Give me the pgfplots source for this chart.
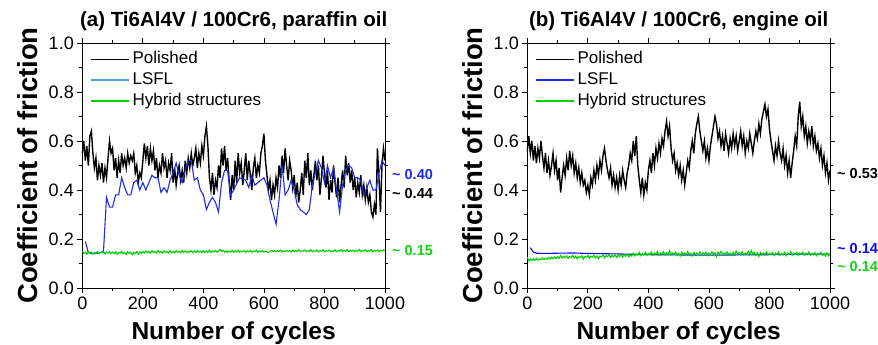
\documentclass[border=0pt]{standalone}
\usepackage{fontspec}
\setmainfont{Liberation Sans}
\usepackage{pgfplots}
\pgfplotsset{compat=1.18}
\definecolor{cblueA}{RGB}{30,45,235}
\definecolor{cblue}{RGB}{10,10,255}
\definecolor{clegblueB}{RGB}{30,40,255}
\definecolor{cgreen}{RGB}{0,210,0}
\definecolor{clegblue}{RGB}{90,155,215}
\definecolor{ctxtgreen}{RGB}{20,210,20}
\pgfplotsset{
  myax/.style={
    scale only axis, width=302.7pt, height=245pt,
    xmin=0, xmax=1000, ymin=0, ymax=1,
    clip=false,
    xtick={0,200,400,600,800,1000}, ytick={0,0.2,0.4,0.6,0.8,1.0},
    minor x tick num=1, minor y tick num=1,
    tick align=outside, xtick pos=both, ytick pos=both,
    xticklabel pos=lower, yticklabel pos=left,
    major tick length=5pt, minor tick length=3pt,
    every tick/.style={black, line width=0.8pt},
    axis line style={line width=0.9pt},
    ticklabel style={font=\fontsize{18}{18}\selectfont},
    /pgf/number format/assume math mode=true,
    /pgf/number format/1000 sep={},
    yticklabel style={/pgf/number format/.cd, fixed, fixed zerofill, precision=1},
    xlabel={Number of cycles},
    ylabel={Coefficient of friction},
    xlabel style={font=\fontsize{24.5}{26}\selectfont\bfseries, at={(axis description cs:0.5,-0.21)}, anchor=base, inner sep=0pt},
    ylabel style={font=\fontsize{27.5}{29}\selectfont\bfseries, at={(axis description cs:-0.147,0.5)}, anchor=south, inner sep=0pt},
    title style={font=\fontsize{20.5}{24}\selectfont\bfseries, at={(axis description cs:0.5,1)}, anchor=base, yshift=10pt},
    legend cell align=left,
    legend image code/.code={\draw[##1] (0pt,0pt) -- (38pt,0pt);},
    legend style={at={(axis description cs:0.025,0.978)}, anchor=north west, draw=none, fill=none,
      inner sep=0pt, row sep=0pt, font=\fontsize{17}{17}\selectfont,
      nodes={inner xsep=3pt, inner ysep=2.75pt, text height=12pt, text depth=3.5pt}},
  }
}
\begin{document}
\begin{tikzpicture}
\useasboundingbox (0pt,0pt) rectangle (878pt,345pt);
\begin{axis}[myax, at={(82.3pt,57pt)}, anchor=south west, title={(a) Ti6Al4V / 100Cr6, paraffin oil}]
\addlegendimage{black, line width=1.0pt}\addlegendentry{Polished}
\addlegendimage{clegblue, line width=1.5pt}\addlegendentry{LSFL}
\addlegendimage{cgreen, line width=1.5pt}\addlegendentry{Hybrid structures}
\addplot[black, line width=1.4pt, forget plot] coordinates {
(0,0.55)(5,0.60)(10,0.52)(15,0.58)(20,0.50)(25,0.62)(30,0.64)(35,0.55)(40,0.49)(45,0.53)
(50,0.44)(55,0.50)(60,0.46)(65,0.51)(70,0.43)(75,0.49)(80,0.45)(85,0.53)(90,0.60)(95,0.55)
(100,0.57)(105,0.48)(110,0.53)(115,0.45)(120,0.52)(125,0.47)(130,0.55)(135,0.50)(140,0.53)(145,0.49)
(150,0.55)(155,0.51)(160,0.54)(165,0.52)(170,0.55)(175,0.47)(180,0.50)(185,0.43)(190,0.47)(195,0.45)
(200,0.52)(205,0.59)(210,0.53)(215,0.58)(220,0.50)(225,0.57)(230,0.52)(235,0.56)(240,0.48)(245,0.53)
(250,0.45)(255,0.50)(260,0.47)(265,0.55)(270,0.49)(275,0.52)(280,0.45)(285,0.51)(290,0.48)(295,0.55)
(300,0.43)(305,0.49)(310,0.42)(315,0.47)(320,0.50)(325,0.44)(330,0.48)(335,0.43)(340,0.52)(345,0.47)
(350,0.53)(355,0.49)(360,0.55)(365,0.50)(370,0.53)(375,0.57)(380,0.49)(385,0.55)(390,0.51)(395,0.58)
(400,0.54)(405,0.62)(410,0.66)(415,0.58)(420,0.45)(425,0.40)(430,0.47)(435,0.38)(440,0.44)(445,0.41)
(450,0.50)(455,0.45)(460,0.57)(465,0.50)(470,0.58)(475,0.48)(480,0.53)(485,0.44)(490,0.36)(495,0.46)
(500,0.40)(505,0.52)(510,0.43)(515,0.55)(520,0.47)(525,0.51)(530,0.42)(535,0.48)(540,0.55)(545,0.44)
(550,0.52)(555,0.46)(560,0.40)(565,0.49)(570,0.53)(575,0.45)(580,0.50)(585,0.47)(590,0.55)(595,0.58)
(600,0.63)(605,0.52)(610,0.46)(615,0.40)(620,0.44)(625,0.36)(630,0.42)(635,0.38)(640,0.45)(645,0.41)
(650,0.50)(655,0.45)(660,0.54)(665,0.47)(670,0.57)(675,0.50)(680,0.44)(685,0.52)(690,0.48)(695,0.41)
(700,0.46)(705,0.37)(710,0.43)(715,0.35)(720,0.40)(725,0.47)(730,0.38)(735,0.52)(740,0.45)(745,0.55)
(750,0.42)(755,0.48)(760,0.40)(765,0.46)(770,0.52)(775,0.44)(780,0.50)(785,0.38)(790,0.45)(795,0.54)
(800,0.47)(805,0.41)(810,0.48)(815,0.36)(820,0.44)(825,0.39)(830,0.50)(835,0.43)(840,0.37)(845,0.45)
(850,0.35)(855,0.42)(860,0.48)(865,0.41)(870,0.54)(875,0.46)(880,0.51)(885,0.43)(890,0.48)(895,0.40)
(900,0.45)(905,0.37)(910,0.43)(915,0.39)(920,0.46)(925,0.38)(930,0.42)(935,0.36)(940,0.41)(945,0.35)
(950,0.38)(955,0.31)(960,0.29)(965,0.34)(970,0.30)(975,0.57)(980,0.45)(985,0.31)(990,0.50)(995,0.57)(1000,0.52)
};
\addplot[cblueA, line width=1.1pt, forget plot] coordinates {
(10,0.19)(20,0.145)(30,0.14)(40,0.14)(50,0.142)(60,0.145)(70,0.15)(80,0.37)(90,0.33)(100,0.33)
(110,0.38)(120,0.38)(130,0.45)(140,0.41)(150,0.38)(160,0.38)(170,0.43)(180,0.44)(190,0.40)(200,0.43)
(210,0.40)(220,0.43)(230,0.46)(240,0.45)(250,0.45)(260,0.39)(270,0.41)(280,0.39)(290,0.44)(300,0.47)
(310,0.51)(320,0.46)(330,0.43)(340,0.48)(350,0.52)(360,0.52)(370,0.44)(380,0.45)(390,0.40)(400,0.38)
(410,0.32)(420,0.35)(430,0.37)(440,0.35)(450,0.31)(460,0.43)(470,0.48)(480,0.48)(490,0.38)(500,0.40)
(520,0.45)(540,0.44)(550,0.41)(560,0.46)(570,0.42)(580,0.43)(600,0.45)(610,0.42)(620,0.36)(640,0.26)
(650,0.36)(660,0.50)(670,0.38)(680,0.40)(690,0.44)(700,0.40)(710,0.34)(720,0.32)(740,0.30)(750,0.32)
(760,0.42)(770,0.47)(780,0.52)(790,0.49)(800,0.43)(810,0.50)(820,0.45)(830,0.49)(840,0.40)(850,0.31)
(860,0.42)(870,0.48)(880,0.50)(890,0.49)(900,0.45)(910,0.45)(920,0.44)(930,0.38)(940,0.41)(950,0.44)
(960,0.40)(970,0.40)(980,0.47)(990,0.52)(1000,0.50)
};
\addplot[cgreen, line width=1.1pt, forget plot] coordinates {
(0,0.150)(5,0.141)(10,0.146)(15,0.138)(20,0.148)(25,0.142)(30,0.147)(35,0.139)(40,0.145)(45,0.141)
(50,0.149)(55,0.140)(60,0.146)(65,0.143)(70,0.148)(75,0.139)(80,0.147)(85,0.142)(90,0.149)(95,0.141)
(100,0.147)(105,0.140)(110,0.148)(115,0.138)(120,0.146)(125,0.142)(130,0.150)(135,0.140)(140,0.145)(145,0.137)
(150,0.148)(155,0.141)(160,0.146)(165,0.136)(170,0.145)(175,0.140)(180,0.149)(185,0.138)(190,0.147)(195,0.141)
(200,0.149)(205,0.143)(210,0.151)(215,0.144)(220,0.150)(225,0.142)(230,0.152)(235,0.145)(240,0.149)(245,0.143)
(250,0.153)(255,0.144)(260,0.150)(265,0.142)(270,0.151)(275,0.145)(280,0.149)(285,0.143)(290,0.152)(295,0.144)
(300,0.150)(305,0.143)(310,0.152)(315,0.146)(320,0.150)(325,0.144)(330,0.153)(335,0.145)(340,0.151)(345,0.144)
(350,0.150)(355,0.146)(360,0.152)(365,0.144)(370,0.151)(375,0.145)(380,0.153)(385,0.146)(390,0.150)(395,0.144)
(400,0.152)(405,0.145)(410,0.151)(415,0.146)(420,0.154)(425,0.145)(430,0.151)(435,0.147)(440,0.153)(445,0.146)
(450,0.150)(455,0.158)(460,0.149)(465,0.154)(470,0.146)(475,0.152)(480,0.145)(485,0.151)(490,0.147)(495,0.153)
(500,0.146)(505,0.152)(510,0.147)(515,0.154)(520,0.146)(525,0.151)(530,0.148)(535,0.153)(540,0.145)(545,0.152)
(550,0.147)(555,0.154)(560,0.146)(565,0.151)(570,0.148)(575,0.155)(580,0.146)(585,0.152)(590,0.147)(595,0.153)
(600,0.146)(605,0.151)(610,0.148)(615,0.144)(620,0.150)(625,0.154)(630,0.148)(635,0.152)(640,0.147)(645,0.153)
(650,0.149)(655,0.155)(660,0.147)(665,0.152)(670,0.148)(675,0.154)(680,0.149)(685,0.153)(690,0.147)(695,0.155)
(700,0.148)(705,0.153)(710,0.149)(715,0.156)(720,0.148)(725,0.152)(730,0.150)(735,0.155)(740,0.148)(745,0.153)
(750,0.149)(755,0.156)(760,0.148)(765,0.152)(770,0.150)(775,0.155)(780,0.147)(785,0.153)(790,0.149)(795,0.156)
(800,0.148)(805,0.153)(810,0.150)(815,0.155)(820,0.148)(825,0.152)(830,0.149)(835,0.156)(840,0.148)(845,0.153)
(850,0.150)(855,0.157)(860,0.149)(865,0.154)(870,0.150)(875,0.156)(880,0.148)(885,0.153)(890,0.150)(895,0.155)
(900,0.149)(905,0.154)(910,0.150)(915,0.157)(920,0.149)(925,0.153)(930,0.151)(935,0.156)(940,0.149)(945,0.154)
(950,0.150)(955,0.157)(960,0.148)(965,0.153)(970,0.150)(975,0.155)(980,0.149)(985,0.154)(990,0.151)(995,0.156)(1000,0.152)
};
\node[anchor=west, xshift=7pt, inner sep=0pt, text=cblueA, font=\fontsize{14.5}{15}\selectfont\bfseries] at (rel axis cs:1,0.465) {\textasciitilde\ 0.40};
\node[anchor=west, xshift=7pt, inner sep=0pt, text=black, font=\fontsize{14.5}{15}\selectfont\bfseries] at (rel axis cs:1,0.385) {\textasciitilde\ 0.44};
\node[anchor=west, xshift=7pt, inner sep=0pt, text=ctxtgreen, font=\fontsize{14.5}{15}\selectfont\bfseries] at (rel axis cs:1,0.155) {\textasciitilde\ 0.15};
\end{axis}

\begin{axis}[myax, at={(527.3pt,57pt)}, anchor=south west, title={(b) Ti6Al4V / 100Cr6, engine oil}]
\addlegendimage{black, line width=1.0pt}\addlegendentry{Polished}
\addlegendimage{clegblueB, line width=1.5pt}\addlegendentry{LSFL}
\addlegendimage{cgreen, line width=1.5pt}\addlegendentry{Hybrid structures}
\addplot[black, line width=1.4pt, forget plot] coordinates {
(0,0.56)(5,0.62)(10,0.55)(15,0.60)(20,0.52)(25,0.58)(30,0.51)(35,0.57)(40,0.53)(45,0.60)
(50,0.54)(55,0.49)(60,0.55)(65,0.47)(70,0.52)(75,0.46)(80,0.50)(85,0.55)(90,0.48)(95,0.52)
(100,0.44)(105,0.49)(110,0.39)(115,0.45)(120,0.50)(125,0.46)(130,0.53)(135,0.48)(140,0.56)(145,0.50)
(150,0.54)(155,0.47)(160,0.51)(165,0.45)(170,0.49)(175,0.43)(180,0.47)(185,0.42)(190,0.44)(195,0.39)
(200,0.42)(205,0.38)(210,0.45)(215,0.42)(220,0.48)(225,0.44)(230,0.50)(235,0.46)(240,0.52)(245,0.48)
(250,0.54)(255,0.57)(260,0.52)(265,0.48)(270,0.45)(275,0.49)(280,0.42)(285,0.46)(290,0.41)(295,0.45)
(300,0.40)(305,0.46)(310,0.42)(315,0.48)(320,0.44)(325,0.41)(330,0.47)(335,0.50)(340,0.55)(345,0.52)
(350,0.60)(355,0.54)(360,0.62)(365,0.50)(370,0.44)(375,0.39)(380,0.45)(385,0.38)(390,0.43)(395,0.40)
(400,0.48)(405,0.52)(410,0.47)(415,0.55)(420,0.50)(425,0.57)(430,0.53)(435,0.59)(440,0.55)(445,0.61)
(450,0.58)(455,0.64)(460,0.68)(465,0.62)(470,0.66)(475,0.57)(480,0.52)(485,0.55)(490,0.48)(495,0.51)
(500,0.46)(505,0.50)(510,0.44)(515,0.48)(520,0.42)(525,0.47)(530,0.52)(535,0.49)(540,0.56)(545,0.60)
(550,0.55)(555,0.63)(560,0.67)(565,0.70)(570,0.64)(575,0.60)(580,0.56)(585,0.60)(590,0.53)(595,0.57)
(600,0.52)(605,0.58)(610,0.62)(615,0.66)(620,0.70)(625,0.67)(630,0.61)(635,0.64)(640,0.58)(645,0.62)
(650,0.56)(655,0.63)(660,0.59)(665,0.55)(670,0.61)(675,0.57)(680,0.63)(685,0.58)(690,0.62)(695,0.56)
(700,0.60)(705,0.64)(710,0.58)(715,0.62)(720,0.55)(725,0.60)(730,0.57)(735,0.63)(740,0.59)(745,0.55)
(750,0.60)(755,0.64)(760,0.61)(765,0.67)(770,0.63)(775,0.69)(780,0.72)(785,0.75)(790,0.70)(795,0.73)
(800,0.65)(805,0.60)(810,0.56)(815,0.52)(820,0.58)(825,0.54)(830,0.60)(835,0.55)(840,0.52)(845,0.57)
(850,0.50)(855,0.54)(860,0.47)(865,0.52)(870,0.45)(875,0.51)(880,0.56)(885,0.62)(890,0.58)(895,0.70)
(900,0.76)(905,0.66)(910,0.70)(915,0.62)(920,0.66)(925,0.59)(930,0.64)(935,0.60)(940,0.66)(945,0.58)
(950,0.62)(955,0.56)(960,0.59)(965,0.53)(970,0.57)(975,0.50)(980,0.54)(985,0.47)(990,0.51)(995,0.44)(1000,0.48)
};
\addplot[cblue, line width=1.1pt, forget plot] coordinates {
(10,0.165)(15,0.155)(20,0.147)(30,0.142)(50,0.141)(100,0.142)(150,0.143)(200,0.141)(300,0.139)
(400,0.136)(500,0.135)(600,0.134)(700,0.135)(800,0.136)(900,0.138)(1000,0.138)
};
\addplot[cgreen, line width=1.1pt, forget plot] coordinates {
(0,0.125)(5,0.110)(10,0.118)(15,0.112)(20,0.120)(25,0.113)(30,0.121)(35,0.114)(40,0.119)(45,0.115)
(50,0.123)(55,0.116)(60,0.121)(65,0.117)(70,0.125)(75,0.118)(80,0.126)(85,0.119)(90,0.127)(95,0.120)
(100,0.129)(105,0.121)(110,0.133)(115,0.122)(120,0.130)(125,0.124)(130,0.131)(135,0.120)(140,0.129)(145,0.125)
(150,0.133)(155,0.122)(160,0.130)(165,0.119)(170,0.128)(175,0.124)(180,0.132)(185,0.118)(190,0.129)(195,0.125)
(200,0.133)(205,0.121)(210,0.130)(215,0.126)(220,0.134)(225,0.122)(230,0.131)(235,0.119)(240,0.130)(245,0.127)
(250,0.135)(255,0.123)(260,0.132)(265,0.128)(270,0.136)(275,0.124)(280,0.133)(285,0.127)(290,0.136)(295,0.125)
(300,0.134)(305,0.128)(310,0.137)(315,0.126)(320,0.135)(325,0.129)(330,0.138)(335,0.127)(340,0.136)(345,0.130)
(350,0.142)(355,0.131)(360,0.139)(365,0.133)(370,0.145)(375,0.132)(380,0.140)(385,0.134)(390,0.146)(395,0.133)
(400,0.141)(405,0.135)(410,0.147)(415,0.134)(420,0.142)(425,0.136)(430,0.149)(435,0.133)(440,0.143)(445,0.137)
(450,0.148)(455,0.134)(460,0.144)(465,0.136)(470,0.152)(475,0.135)(480,0.143)(485,0.138)(490,0.147)(495,0.133)
(500,0.142)(505,0.130)(510,0.146)(515,0.137)(520,0.143)(525,0.134)(530,0.149)(535,0.136)(540,0.142)(545,0.131)
(550,0.145)(555,0.137)(560,0.143)(565,0.133)(570,0.148)(575,0.136)(580,0.144)(585,0.138)(590,0.146)(595,0.132)
(600,0.143)(605,0.137)(610,0.148)(615,0.135)(620,0.144)(625,0.128)(630,0.146)(635,0.137)(640,0.150)(645,0.136)
(650,0.143)(655,0.134)(660,0.147)(665,0.137)(670,0.142)(675,0.133)(680,0.146)(685,0.136)(690,0.151)(695,0.138)
(700,0.144)(705,0.136)(710,0.148)(715,0.135)(720,0.143)(725,0.137)(730,0.149)(735,0.134)(740,0.153)(745,0.138)
(750,0.146)(755,0.133)(760,0.144)(765,0.129)(770,0.145)(775,0.136)(780,0.143)(785,0.135)(790,0.147)(795,0.134)
(800,0.142)(805,0.136)(810,0.145)(815,0.132)(820,0.143)(825,0.137)(830,0.147)(835,0.133)(840,0.141)(845,0.135)
(850,0.146)(855,0.131)(860,0.143)(865,0.137)(870,0.149)(875,0.134)(880,0.142)(885,0.136)(890,0.145)(895,0.133)
(900,0.143)(905,0.137)(910,0.146)(915,0.134)(920,0.142)(925,0.136)(930,0.147)(935,0.133)(940,0.141)(945,0.135)
(950,0.145)(955,0.132)(960,0.142)(965,0.136)(970,0.146)(975,0.133)(980,0.141)(985,0.130)(990,0.144)(995,0.131)(1000,0.140)
};
\node[anchor=west, xshift=7pt, inner sep=0pt, text=black, font=\fontsize{14.5}{15}\selectfont\bfseries] at (rel axis cs:1,0.468) {\textasciitilde\ 0.53};
\node[anchor=west, xshift=7pt, inner sep=0pt, text=cblue, font=\fontsize{14.5}{15}\selectfont\bfseries] at (rel axis cs:1,0.162) {\textasciitilde\ 0.14};
\node[anchor=west, xshift=7pt, inner sep=0pt, text=ctxtgreen, font=\fontsize{14.5}{15}\selectfont\bfseries] at (rel axis cs:1,0.087) {\textasciitilde\ 0.14};
\end{axis}
\end{tikzpicture}
\end{document}
